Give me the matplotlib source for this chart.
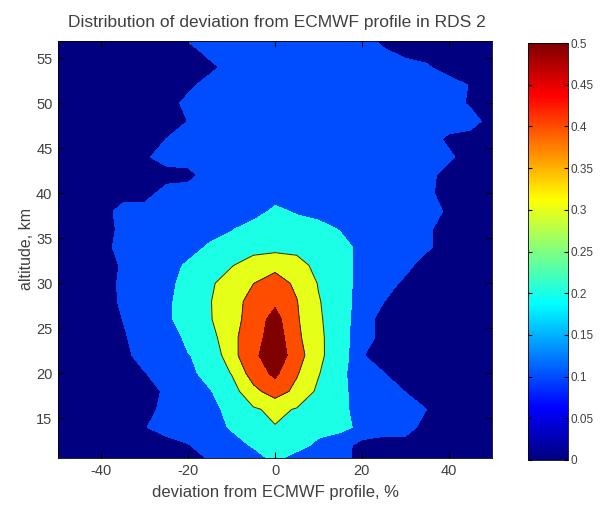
import numpy as np
import matplotlib
matplotlib.use("Agg")
import matplotlib.pyplot as plt
from matplotlib.colors import LinearSegmentedColormap, Normalize
from matplotlib.cm import ScalarMappable

plt.rcParams['font.family'] = ['Liberation Sans', 'DejaVu Sans']
plt.rcParams['axes.unicode_minus'] = False

# ---- data -------------------------------------------------------------
deviation = np.arange(-50, 51, 5)            # % (columns)
altitude = [10.6, 12, 14, 16, 18, 20, 22, 24, 26, 28, 30, 32, 34, 36,
            38, 40, 42, 44, 46, 48, 50, 52, 54, 56, 56.9]   # km (rows)

density = [
 [.05,.05,.05,.05,.05,.05,.05,.1125,.15,.15,.233,.15,.15,.15,.05,.05,.05,.05,.05,.05,.05],   # 10.6
 [.05,.05,.05,.05,.05,.05,.094,.15,.15,.2125,.23,.25,.167,.15,.061,.05,.05,.05,.05,.05,.05], # 12
 [.05,.05,.05,.05,.094,.15,.15,.15,.2125,.26,.296,.27,.25,.22,.184,.15,.15,.054,.05,.05,.05],# 14
 [.05,.05,.05,.05,.05,.143,.15,.173,.227,.289,.32,.294,.253,.215,.1775,.15,.15,.099,.05,.05,.05], # 16
 [.05,.05,.05,.05,.05,.119,.15,.193,.26,.37,.45,.372,.282,.23,.147,.15,.098,.05,.05,.05,.05], # 18
 [.05,.05,.05,.05,.0957,.15,.172,.238,.304,.449,.52,.41,.306,.224,.144,.103,.05,.05,.05,.05,.05], # 20
 [.05,.05,.05,.0667,.15,.15,.197,.2226,.366,.479,.56,.453,.3135,.265,.105,.063,.05,.05,.05,.05,.05], # 22
 [.05,.05,.05,.0875,.15,.15,.221,.259,.379,.449,.56,.42,.33,.22,.172,.052,.05,.05,.05,.05,.05], # 24
 [.05,.05,.05,.102,.15,.179,.25,.293,.362,.4445,.537,.4123,.31,.26,.135,.0725,.05,.05,.05,.05,.05], # 26
 [.05,.05,.05,.118,.15,.179,.25,.296,.35,.443,.48,.404,.306,.25,.154,.102,.05,.05,.05,.05,.05], # 28
 [.05,.05,.05,.121,.15,.161,.25,.284,.35,.398,.445,.381,.295,.25,.161,.15,.0765,.05,.05,.05,.05], # 30
 [.05,.05,.05,.1125,.15,.15,.219,.25,.294,.35,.37,.35,.261,.25,.161,.15,.133,.05,.05,.05,.05], # 32
 [.05,.05,.05,.15,.15,.15,.15,.219,.25,.26,.27,.26,.25,.25,.164,.15,.15,.118,.05,.05,.05], # 34
 [.05,.05,.05,.128,.15,.15,.15,.15,.193,.25,.25,.25,.25,.192,.15,.15,.15,.118,.05,.05,.05], # 36
 [.05,.05,.05,.143,.15,.15,.15,.15,.15,.15,.2235,.188,.15,.15,.15,.15,.15,.15,.081,.05,.05], # 38
 [.05,.05,.05,.05,.05,.15,.15,.15,.15,.15,.15,.15,.15,.15,.15,.15,.15,.126,.05,.05,.05], # 40
 [.05,.05,.05,.05,.05,.05,.067,.15,.15,.15,.15,.15,.15,.15,.15,.15,.15,.139,.05,.05,.05], # 42
 [.05,.05,.05,.05,.082,.15,.15,.15,.15,.15,.15,.15,.15,.15,.15,.15,.15,.15,.121,.05,.05], # 44
 [.05,.05,.05,.05,.05,.102,.15,.15,.15,.15,.15,.15,.15,.15,.15,.15,.15,.15,.079,.05,.05], # 46
 [.05,.05,.05,.05,.05,.05,.102,.15,.15,.15,.15,.15,.15,.15,.15,.15,.15,.15,.15,.15,.05], # 48
 [.05,.05,.05,.05,.05,.05,.133,.15,.15,.15,.15,.15,.15,.15,.15,.15,.15,.15,.15,.084,.05], # 50
 [.05,.05,.05,.05,.05,.05,.072,.15,.15,.15,.15,.15,.15,.15,.15,.15,.15,.15,.15,.094,.05], # 52
 [.05,.05,.05,.05,.05,.05,.05,.067,.15,.15,.15,.15,.15,.15,.15,.15,.15,.113,.05,.05,.05], # 54
 [.05,.05,.05,.05,.05,.05,.061,.15,.15,.15,.15,.15,.15,.15,.15,.106,.05,.05,.05,.05,.05], # 56
 [.05,.05,.05,.05,.05,.05,.106,.15,.15,.15,.15,.15,.15,.15,.15,.074,.05,.05,.05,.05,.05], # 56.9
]

levels = [0, 0.1, 0.2, 0.3, 0.4, 0.5, 0.7]
cbar_ticks = [0, 0.05, 0.1, 0.15, 0.2, 0.25, 0.3, 0.35, 0.4, 0.45, 0.5]
cbar_labels = ['0', '0.05', '0.1', '0.15', '0.2', '0.25', '0.3', '0.35', '0.4', '0.45', '0.5']
xticks = [-40, -20, 0, 20, 40]
yticks = [15, 20, 25, 30, 35, 40, 45, 50, 55]

title = 'Distribution of deviation from ECMWF profile in RDS 2'
xlabel = 'deviation from ECMWF profile, %'
ylabel = 'altitude, km'

# ---- style ------------------------------------------------------------
mjet = LinearSegmentedColormap.from_list('mjet', [
    (0.0, (0, 0, 0.5)), (0.125, (0, 0, 1)), (0.375, (0, 1, 1)),
    (0.625, (1, 1, 0)), (0.875, (1, 0, 0)), (1.0, (0.5, 0, 0))], N=256)
vmin, vmax = 0.0, 0.5
band_colors = [mjet((lv - vmin) / (vmax - vmin)) for lv in levels[:-1]]
txt = '#404040'

W, H = 608, 505
fig = plt.figure(figsize=(W / 100, H / 100), dpi=100)
ax = fig.add_axes([58 / W, 47 / H, 434 / W, 417 / H])
cax = fig.add_axes([528 / W, 45 / H, 40 / W, 417 / H])

Z = np.array(density)
ax.contourf(deviation, altitude, Z, levels=levels, colors=band_colors)
ax.contour(deviation, altitude, Z, levels=[0.3, 0.4], colors='#2a2a10',
           linewidths=0.7)
ax.set_xlim(-50, 50)
ax.set_ylim(10.6, 56.9)
ax.set_xticks(xticks)
ax.set_yticks(yticks)
ax.tick_params(direction='in', length=4, labelsize=10.5, colors='k',
               labelcolor=txt, top=True, right=True, pad=4)
for s in ax.spines.values():
    s.set_linewidth(0.6)
ax.set_xlabel(xlabel, fontsize=12, color=txt)
ax.xaxis.set_label_coords(0.5, -27 / 417)
ax.set_ylabel(ylabel, fontsize=11.5, color=txt)
ax.yaxis.set_label_coords(-24 / 434, 0.5)
fig.text(277 / W, 1 - 22 / H, title, ha='center', va='center',
         fontsize=12.5, color=txt)

sm = ScalarMappable(norm=Normalize(vmin, vmax), cmap=mjet)
cb = fig.colorbar(sm, cax=cax)
cb.set_ticks(cbar_ticks)
cb.set_ticklabels(cbar_labels)
cb.outline.set_linewidth(0.6)
cax.tick_params(direction='in', length=3, labelsize=8.5, labelcolor=txt,
                left=True, right=True, pad=2)

fig.savefig('out.png', dpi=100)
